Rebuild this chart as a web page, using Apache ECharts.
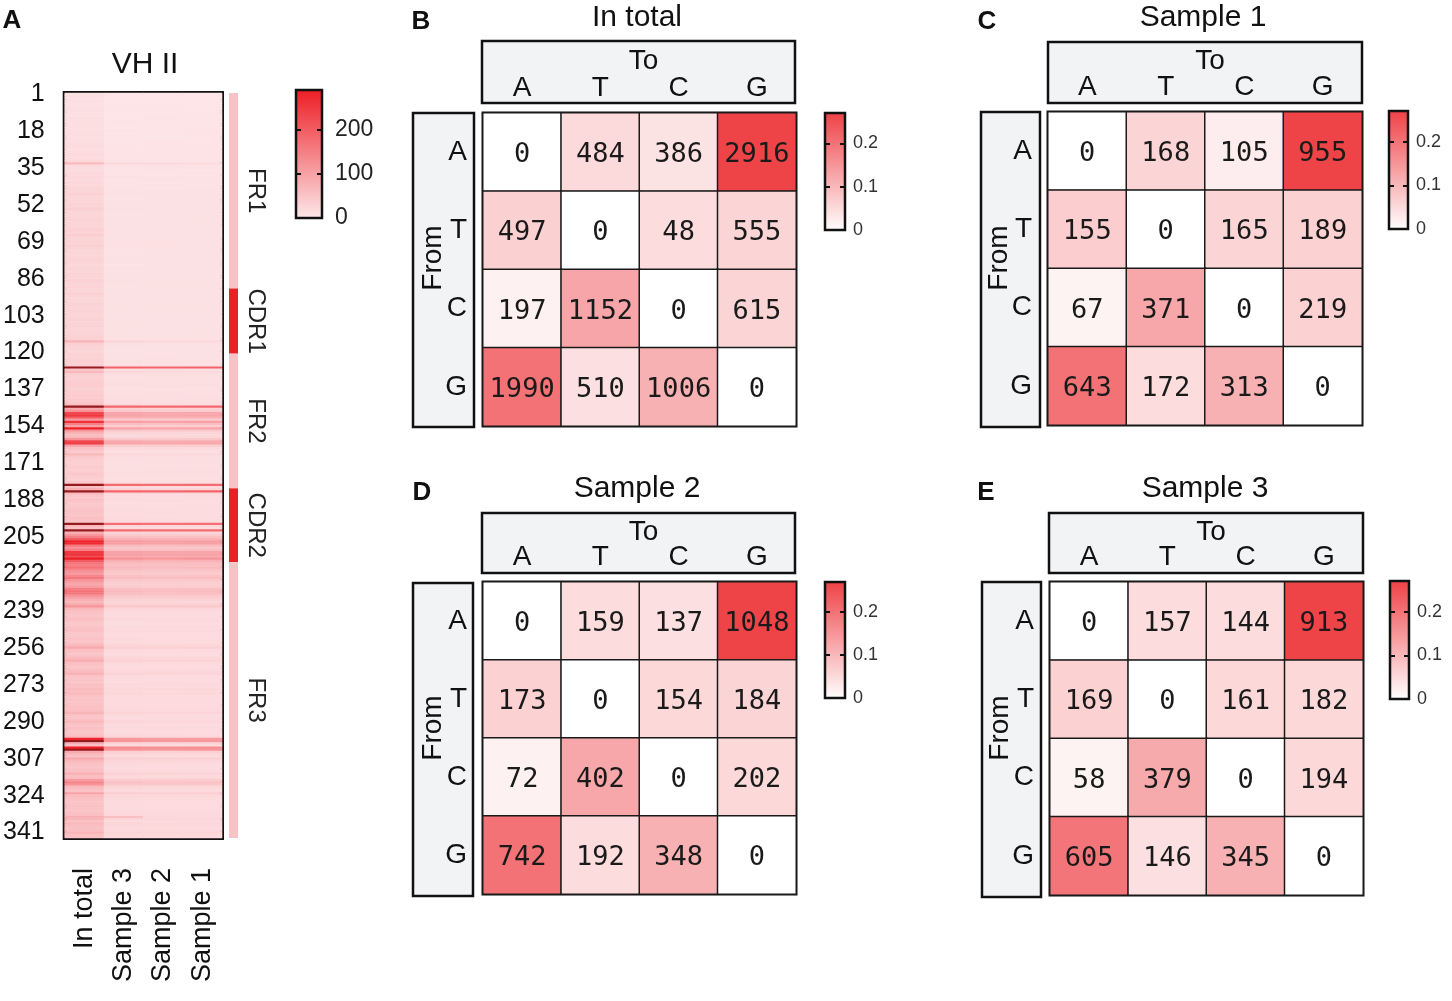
<!DOCTYPE html>
<html><head><meta charset="utf-8">
<script src="https://cdn.jsdelivr.net/npm/echarts@6/dist/echarts.min.js"></script>
<style>html,body{margin:0;padding:0;background:#fff}#c{width:1452px;height:1001px}</style>
</head><body><div id="c"></div>
<script>
const F = 'Liberation Sans, Arial, sans-serif';
const MONO = 'DejaVu Sans Mono, monospace';

// ---------- Panel A data ----------
const columns = ['In total', 'Sample 3', 'Sample 2', 'Sample 1'];
const inTotal = [
12,14,12,15,13,12,14,16,15,14,
13,15,14,16,18,15,14,16,15,17,
16,18,15,17,20,18,16,19,22,18,
20,24,65,22,20,18,21,24,26,22,
20,25,23,28,30,26,35,28,26,30,
28,32,30,38,30,28,26,30,32,28,
30,28,32,35,30,40,32,30,34,30,
38,32,28,30,26,28,30,32,28,26,
28,30,26,30,32,28,36,30,28,32,
30,28,34,30,26,28,30,32,30,28,
32,30,28,30,34,30,32,36,30,28,
30,32,34,36,75,38,32,30,28,30,
32,30,34,36,32,40,330,45,70,40,
36,34,38,40,42,38,36,40,38,42,
40,45,50,60,340,90,120,230,250,200,
110,260,150,100,285,120,80,60,70,120,
230,240,100,60,50,45,70,45,40,38,
36,40,42,38,40,45,42,40,38,50,
330,60,80,340,70,50,45,55,50,45,
48,50,55,52,50,60,55,50,320,70,
60,330,80,110,150,200,280,270,160,120,
150,250,260,220,285,200,160,150,170,140,
120,110,140,160,120,100,90,110,150,170,
160,120,100,80,70,90,120,70,60,55,
50,55,60,50,45,50,55,60,50,48,
50,55,50,60,70,90,60,55,50,60,
70,85,60,55,50,60,65,80,55,50,
55,50,60,55,65,60,70,55,50,55,
50,55,60,55,60,75,55,50,55,70,
55,50,60,55,50,55,65,280,290,80,
60,285,300,90,70,60,90,70,60,55,
50,60,55,80,60,65,110,140,120,70,
60,55,100,65,60,55,50,55,60,55,
50,55,60,80,75,55,70,60,55,60,
75,60,55];
const sample3 = [
6,7,6,7,6,6,7,8,7,7,
6,7,7,8,8,7,7,8,7,8,
8,8,7,8,9,8,8,9,10,8,
9,10,25,10,9,8,9,10,11,10,
9,10,10,11,12,10,13,11,10,12,
11,12,12,14,12,11,10,12,12,11,
12,11,12,13,12,14,12,11,13,12,
14,12,11,12,10,11,12,12,11,10,
11,12,10,12,12,11,14,12,11,12,
12,11,13,12,10,11,12,12,12,11,
12,12,11,12,13,12,12,14,12,11,
12,12,13,14,28,14,12,12,11,12,
12,12,13,14,12,15,190,16,25,15,
14,13,14,15,16,14,14,15,14,16,
15,17,18,22,185,35,45,95,100,80,
45,105,60,40,100,48,30,22,26,48,
90,95,40,22,18,16,25,16,15,14,
14,15,16,14,15,17,16,15,14,18,
180,22,30,190,26,18,17,20,18,17,
18,18,20,19,18,22,20,18,175,26,
22,180,30,40,60,80,110,105,65,48,
60,100,105,90,120,80,65,60,68,56,
48,44,56,64,48,40,36,44,60,68,
64,48,40,32,28,36,48,28,24,22,
20,22,24,20,18,20,22,24,20,19,
20,22,20,24,28,36,24,22,20,24,
28,34,24,22,20,24,26,32,22,20,
22,20,24,22,26,24,28,22,20,22,
20,22,24,22,24,30,22,20,22,28,
22,20,24,22,20,22,26,115,118,32,
24,130,120,36,28,24,36,28,24,22,
20,24,22,32,24,26,44,56,48,28,
24,22,40,26,24,22,20,22,24,22,
20,22,24,60,30,22,28,24,22,24,
30,24,22];
const sample2 = [
7,6,7,6,7,6,6,7,8,7,
7,6,8,7,8,8,7,7,8,7,
7,8,8,9,8,9,8,8,9,9,
8,9,22,11,10,9,8,9,10,11,
10,9,11,10,11,11,12,12,11,11,
12,11,13,12,13,12,11,11,13,12,
11,12,13,12,13,13,11,12,12,13,
13,13,12,11,11,12,11,13,12,11,
12,11,11,13,11,12,13,11,12,13,
11,12,12,13,11,12,11,13,11,12,
13,11,12,11,12,13,11,13,13,12,
11,13,12,13,25,13,13,11,12,11,
13,11,14,13,13,14,185,15,24,16,
15,14,13,14,15,15,13,14,15,15,
16,16,17,20,180,32,42,90,95,78,
42,100,58,38,96,45,28,24,25,45,
85,92,38,24,17,17,24,15,16,15,
15,14,15,15,16,16,15,16,15,17,
175,20,28,185,25,19,16,19,19,16,
17,19,19,20,17,21,19,19,170,24,
21,175,28,38,58,76,105,100,62,46,
58,96,100,86,115,78,62,58,65,54,
46,42,54,60,46,38,35,42,58,64,
60,46,38,30,27,34,46,27,23,21,
21,21,23,21,19,21,21,23,21,18,
21,21,21,23,26,34,23,21,21,23,
26,32,23,21,21,23,25,30,21,21,
21,21,23,21,25,23,26,21,21,21,
21,21,23,21,23,28,21,21,21,26,
21,21,23,21,21,21,25,110,112,30,
23,125,115,34,26,23,34,26,23,21,
21,23,21,30,23,25,42,54,46,26,
23,21,38,25,23,21,21,21,23,21,
21,21,23,24,28,21,26,23,21,23,
28,23,21];
const sample1 = [
6,6,7,7,6,7,7,7,7,8,
7,7,7,7,8,7,8,8,8,8,
8,8,8,8,9,8,9,9,9,9,
9,10,20,10,10,9,9,10,10,10,
10,10,10,11,11,10,12,11,11,11,
11,12,12,13,12,12,11,11,12,12,
12,11,12,12,12,13,12,12,12,12,
13,12,12,12,11,12,12,12,12,11,
11,12,11,12,12,12,13,12,11,12,
12,12,12,12,11,12,12,12,12,12,
12,12,12,12,12,12,12,13,12,12,
12,12,12,13,24,13,12,12,12,12,
12,12,13,13,13,14,188,15,23,15,
14,14,14,14,15,14,14,15,14,15,
15,16,17,21,182,33,43,92,96,79,
44,102,59,39,98,46,29,23,25,46,
88,93,39,23,17,16,24,16,15,15,
15,15,15,15,15,16,16,15,15,17,
178,21,29,188,25,18,17,19,18,17,
17,18,19,19,18,21,19,18,172,25,
21,178,29,39,59,78,108,102,63,47,
59,98,102,88,118,79,63,59,66,55,
47,43,55,62,47,39,35,43,59,66,
62,47,39,31,27,35,47,27,23,21,
20,21,23,20,18,20,21,23,20,19,
20,21,20,23,27,35,23,21,20,23,
27,33,23,21,20,23,25,31,21,20,
21,20,23,21,25,23,27,21,20,21,
20,21,23,21,23,29,21,20,21,27,
21,20,23,21,20,21,25,112,115,31,
23,128,118,35,27,23,35,27,23,21,
20,23,21,31,23,25,43,55,47,27,
23,21,39,25,23,21,20,21,23,21,
20,21,23,24,29,21,27,23,21,23,
29,23,21];
const positions = inTotal.map((_, i) => String(i + 1));

const regionNames = ['FR1', 'CDR1', 'FR2', 'CDR2', 'FR3'];
const regionStart = [1, 91, 121, 183, 217];
const regionEnd = [90, 120, 182, 216, 343];
const regionIsCDR = [0, 1, 0, 1, 0];

const heatMax = 290;      // top of colour bar, panel A
const heatTickStep = 100; // ticks 0, 100, 200

// ---------- Panels B-E data ----------
const nucleotides = ['A', 'T', 'C', 'G'];
const countsTotal = [[0,484,386,2916],[497,0,48,555],[197,1152,0,615],[1990,510,1006,0]];
const freqTotal   = [[0,0.052,0.04,0.265],[0.067,0,0.05,0.06],[0.02,0.127,0,0.06],[0.2,0.045,0.11,0]];
const countsS1 = [[0,168,105,955],[155,0,165,189],[67,371,0,219],[643,172,313,0]];
const freqS1   = [[0,0.06,0.025,0.265],[0.07,0,0.06,0.065],[0.017,0.125,0,0.065],[0.2,0.05,0.11,0]];
const countsS2 = [[0,159,137,1048],[173,0,154,184],[72,402,0,202],[742,192,348,0]];
const freqS2   = [[0,0.05,0.045,0.265],[0.065,0,0.055,0.06],[0.02,0.125,0,0.055],[0.2,0.05,0.11,0]];
const countsS3 = [[0,157,144,913],[169,0,161,182],[58,379,0,194],[605,146,345,0]];
const freqS3   = [[0,0.05,0.05,0.265],[0.065,0,0.055,0.055],[0.017,0.12,0,0.055],[0.195,0.045,0.11,0]];
const freqMax = 0.27;
const freqTickStep = 0.1;

// ---------- layout ----------
const panels = [
  {title:'In total', letter:'B', counts:countsTotal, freq:freqTotal, m:[483,113,313,313], head:[482,41,313,62], from:[413,113,61,314], leg:[825,113,20,117], tXY:[637,18], lXY:[421,22], toY:20, fromXY:[20,145]},
  {title:'Sample 1', letter:'C', counts:countsS1, freq:freqS1, m:[1048,112,314,313], head:[1048,42,314,61], from:[981,112,59,315], leg:[1389,111,19,118], tXY:[1203,18], lXY:[987,22], toY:19, fromXY:[18,146]},
  {title:'Sample 2', letter:'D', counts:countsS2, freq:freqS2, m:[483,582,313,312], head:[482,513,313,60], from:[413,583,60,313], leg:[825,582,20,116], tXY:[637,489], lXY:[422,493], toY:19, fromXY:[20,146]},
  {title:'Sample 3', letter:'E', counts:countsS3, freq:freqS3, m:[1050,582,313,313], head:[1049,513,314,60], from:[982,582,59,315], leg:[1390,581,19,118], tXY:[1205,489], lXY:[986,493], toY:19, fromXY:[18,146]}
];

const grids = [], xAxes = [], yAxes = [], series = [], graphics = [];
function addGrid(g) { grids.push(g); return grids.length - 1; }
function addX(a) { xAxes.push(a); return xAxes.length - 1; }
function addY(a) { yAxes.push(a); return yAxes.length - 1; }

function gradientRenderer(maxV, low, high) {
  return function (params, api) {
    const p1 = api.coord([0, maxV]);
    const p2 = api.coord([1, 0]);
    return {
      type: 'rect',
      shape: { x: p1[0], y: p1[1], width: p2[0] - p1[0], height: p2[1] - p1[1] },
      style: {
        fill: { type: 'linear', x: 0, y: 1, x2: 0, y2: 0, colorStops: [{ offset: 0, color: low }, { offset: 1, color: high }] },
        stroke: '#111', lineWidth: 2.5
      }
    };
  };
}
function addLegend(rect, maxV, step, low, high, fontSize, margin, labelColor) {
  const g = addGrid({ left: rect[0], top: rect[1], width: rect[2], height: rect[3] });
  const xi = addX({ gridIndex: g, type: 'value', min: 0, max: 1, show: false });
  const tick = { show: true, inside: true, length: 5, lineStyle: { color: '#111', width: 2 } };
  const yl = addY({ gridIndex: g, type: 'value', min: 0, max: maxV, interval: step, position: 'left', z: 10,
    axisLine: { show: false }, axisTick: tick, axisLabel: { show: false }, splitLine: { show: false } });
  addY({ gridIndex: g, type: 'value', min: 0, max: maxV, interval: step, position: 'right', z: 10,
    axisLine: { show: false }, axisTick: tick, splitLine: { show: false },
    axisLabel: { showMaxLabel: false, fontSize: fontSize, margin: margin, color: labelColor, fontFamily: F } });
  series.push({ type: 'custom', xAxisIndex: xi, yAxisIndex: yl, data: [[0, 0]], silent: true,
    renderItem: gradientRenderer(maxV, low, high) });
}

// ---------- Panel A ----------
const gA = addGrid({ left: 63, top: 93, width: 159, height: 745, show: true, borderColor: '#111', borderWidth: 4, backgroundColor: 'transparent' });
const xA = addX({ gridIndex: gA, type: 'category', data: columns, position: 'bottom',
  axisLine: { show: false }, axisTick: { show: false },
  axisLabel: { rotate: 90, interval: 0, fontSize: 27, margin: 30, color: '#111', fontFamily: F } });
const yA = addY({ gridIndex: gA, type: 'category', data: positions, inverse: true,
  axisLine: { show: false }, axisTick: { show: false },
  axisLabel: { interval: 16, fontSize: 25, margin: 20, color: '#111', fontFamily: F } });
const heatData = [];
[inTotal, sample3, sample2, sample1].forEach((arr, c) => arr.forEach((v, r) => heatData.push([c, r, v])));
series.push({ type: 'heatmap', xAxisIndex: xA, yAxisIndex: yA, data: heatData, progressive: 0,
  itemStyle: { borderWidth: 0 }, emphasis: { disabled: true } });
const heatSeriesIndex = series.length - 1;

// region bar
const gR = addGrid({ left: 229, top: 93, width: 9, height: 745 });
const xR = addX({ gridIndex: gR, type: 'value', min: 0, max: 1, show: false });
const yR = addY({ gridIndex: gR, type: 'value', min: 0.5, max: inTotal.length + 0.5, inverse: true, show: false });
series.push({ type: 'custom', xAxisIndex: xR, yAxisIndex: yR, silent: true,
  data: regionNames.map((n, i) => [regionStart[i], regionEnd[i], regionIsCDR[i]]),
  renderItem: function (params, api) {
    const s = api.value(0), e = api.value(1), cdr = api.value(2);
    const p1 = api.coord([0, s - 0.5]);
    const p2 = api.coord([1, e + 0.5]);
    return { type: 'group', children: [
      { type: 'rect', shape: { x: p1[0], y: p1[1], width: p2[0] - p1[0], height: p2[1] - p1[1] },
        style: { fill: cdr ? '#e8202a' : '#f8c3c6' } },
      { type: 'text', x: p2[0] + 18, y: (p1[1] + p2[1]) / 2, rotation: -Math.PI / 2,
        style: { text: regionNames[params.dataIndex], fontSize: 24, fontFamily: F, fill: '#222', align: 'center', verticalAlign: 'middle' } }
    ] };
  } });

addLegend([296, 90, 26, 128], heatMax, heatTickStep, '#fde9eb', '#ed1c24', 23, 13, '#222');

graphics.push({ type: 'text', x: 12, y: 21, style: { text: 'A', fontSize: 26, fontWeight: 'bold', fontFamily: F, fill: '#111', align: 'center', verticalAlign: 'middle' } });
graphics.push({ type: 'text', x: 145, y: 65, style: { text: 'VH II', fontSize: 30, fontFamily: F, fill: '#111', align: 'center', verticalAlign: 'middle' } });

// ---------- Panels B-E ----------
const matrixSeries = [];
panels.forEach(p => {
  graphics.push({ type: 'rect', z: 1, shape: { x: p.head[0], y: p.head[1], width: p.head[2], height: p.head[3] },
    style: { fill: '#f1f3f4', stroke: '#111', lineWidth: 2.5 } });
  graphics.push({ type: 'rect', z: 1, shape: { x: p.from[0], y: p.from[1], width: p.from[2], height: p.from[3] },
    style: { fill: '#f1f3f4', stroke: '#111', lineWidth: 2.5 } });
  graphics.push({ type: 'text', z: 12, x: p.head[0] + p.head[2] / 2 + 5, y: p.head[1] + p.toY,
    style: { text: 'To', fontSize: 28, fontFamily: F, fill: '#111', align: 'center', verticalAlign: 'middle' } });
  graphics.push({ type: 'text', z: 12, x: p.from[0] + p.fromXY[0], y: p.m[1] + p.fromXY[1], rotation: Math.PI / 2,
    style: { text: 'From', fontSize: 28, fontFamily: F, fill: '#111', align: 'center', verticalAlign: 'middle' } });
  graphics.push({ type: 'text', x: p.tXY[0], y: p.tXY[1],
    style: { text: p.title, fontSize: 30, fontFamily: F, fill: '#111', align: 'center', verticalAlign: 'middle' } });
  graphics.push({ type: 'text', x: p.lXY[0], y: p.lXY[1],
    style: { text: p.letter, fontSize: 26, fontWeight: 'bold', fontFamily: F, fill: '#111', align: 'center', verticalAlign: 'middle' } });

  const g = addGrid({ left: p.m[0], top: p.m[1], width: p.m[2], height: p.m[3], show: true, borderColor: '#111', borderWidth: 3, backgroundColor: 'transparent' });
  const xi = addX({ gridIndex: g, type: 'category', data: nucleotides, position: 'top', z: 10,
    axisLine: { show: false }, axisTick: { show: false },
    axisLabel: { fontSize: 28, margin: 11, color: '#111', fontFamily: F } });
  const yi = addY({ gridIndex: g, type: 'category', data: nucleotides, inverse: true, z: 10,
    axisLine: { show: false }, axisTick: { show: false },
    axisLabel: { fontSize: 28, margin: 16, color: '#111', fontFamily: F } });
  const data = [];
  for (let r = 0; r < 4; r++) for (let c = 0; c < 4; c++) data.push([c, r, p.freq[r][c], p.counts[r][c]]);
  series.push({ type: 'heatmap', xAxisIndex: xi, yAxisIndex: yi, data: data,
    itemStyle: { borderColor: '#1a1a1a', borderWidth: 1.5 }, emphasis: { disabled: true },
    label: { show: true, formatter: q => String(q.value[3]), fontSize: 27, fontFamily: MONO, color: '#1a1a1a', offset: [0, 3] } });
  matrixSeries.push(series.length - 1);

  addLegend(p.leg, freqMax, freqTickStep, '#ffffff', '#ee4045', 18, 8, '#333');
});

const chart = echarts.init(document.getElementById('c'), null, { renderer: 'canvas' });
chart.setOption({
  animation: false,
  backgroundColor: '#ffffff',
  grid: grids, xAxis: xAxes, yAxis: yAxes, series: series,
  visualMap: [
    { type: 'continuous', show: false, seriesIndex: heatSeriesIndex, dimension: 2, min: 0, max: heatMax,
      range: [0, heatMax - 1],
      inRange: { color: ['#fde9eb', '#ed1c24'] }, outOfRange: { color: ['#961b1f'] } },
    { type: 'continuous', show: false, seriesIndex: matrixSeries, dimension: 2, min: 0, max: freqMax,
      inRange: { color: ['#ffffff', '#ee4045'] } }
  ],
  graphic: graphics
});
</script></body></html>
